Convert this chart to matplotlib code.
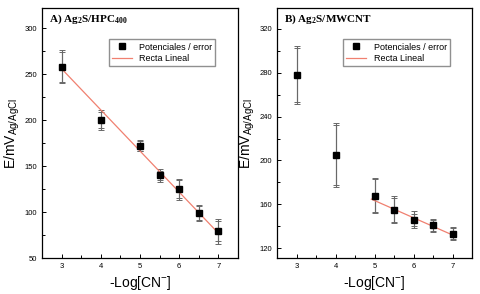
import matplotlib
matplotlib.use("Agg")
import matplotlib.pyplot as plt
import numpy as np

plt.rcParams['font.family'] = ['Liberation Sans', 'DejaVu Sans']
plt.rcParams['mathtext.fontset'] = 'custom'
plt.rcParams['mathtext.rm'] = 'Liberation Sans'
plt.rcParams['mathtext.it'] = 'Liberation Sans'
plt.rcParams['mathtext.bf'] = 'Liberation Serif:bold'

# Panel A: Ag2S/HPC400
xa = [3, 4, 5, 5.5, 6, 6.5, 7]
ya = [258, 200, 172, 140, 125, 99, 79]
erra_out = [18, 11, 6, 7, 11.5, 9, 13.5]
erra_in = [16, 9, 5, 5, 9.5, 8, 11]
fita_x = [3, 7]
fita_y = [256, 77]

# Panel B: Ag2S/MWCNT
xb = [3, 4, 5, 5.5, 6, 6.5, 7]
yb = [278, 205, 168, 155, 146, 141, 133]
errb_out = [26.5, 29.5, 16, 12.5, 7.5, 6, 6]
errb_in = [25, 27, 15, 11, 5.5, 5, 5]
fitb_x = [4.92, 7]
fitb_y = [164.7, 132]

fig = plt.figure(figsize=(4.81, 2.94), dpi=100)
axa = fig.add_axes([0.0873, 0.1224, 0.4075, 0.850])
axb = fig.add_axes([0.5759, 0.1224, 0.4054, 0.850])

def draw_panel(ax, x, y, e_out, e_in, fx, fy, title, ylim, yticks, yminor):
    ax.errorbar(x, y, yerr=e_out, fmt='none', ecolor='#686868', elinewidth=0.8,
                capsize=2.5, capthick=0.7, zorder=2)
    ax.errorbar(x, y, yerr=e_in, fmt='none', ecolor='#686868', elinewidth=0.8,
                capsize=2.5, capthick=0.7, zorder=2)
    ax.plot(x, y, 's', color='black', markersize=4.5, zorder=3,
            label='Potenciales / error')
    ax.plot(fx, fy, '-', color='#f08070', linewidth=0.9, zorder=2.5,
            label='Recta Lineal')
    ax.set_xlim(2.5, 7.5)
    ax.set_ylim(*ylim)
    ax.set_xticks([3, 4, 5, 6, 7])
    ax.set_xticks([3.5, 4.5, 5.5, 6.5], minor=True)
    ax.set_yticks(yticks)
    ax.set_yticks(yminor, minor=True)
    ax.tick_params(which='both', direction='in', labelsize=5.5, top=False, right=False,
                   width=0.7)
    ax.tick_params(which='major', length=3)
    ax.tick_params(which='minor', length=2)
    for s in ax.spines.values():
        s.set_linewidth(0.9)
    ax.set_xlabel(r'-Log[CN$^{\mathrm{-}}$]', fontsize=10, labelpad=3)
    ax.set_ylabel(r'E/mV$_{\mathrm{Ag/AgCl}}$', fontsize=10, labelpad=2)
    ax.text(0.035, 0.955, title, transform=ax.transAxes, fontsize=8,
            fontweight='bold', family='Liberation Serif', va='center')
    ax.legend(loc='upper left', bbox_to_anchor=(0.34, 0.875), fontsize=6.5,
              frameon=True, fancybox=False, edgecolor='#909090', framealpha=1,
              borderpad=0.35, handlelength=2.2, labelspacing=0.3, borderaxespad=0)

draw_panel(axa, xa, ya, erra_out, erra_in, fita_x, fita_y,
           r'A) Ag$_\mathbf{2}$S/HPC$_\mathbf{400}$', (50, 322),
           [50, 100, 150, 200, 250, 300], [75, 125, 175, 225, 275])
draw_panel(axb, xb, yb, errb_out, errb_in, fitb_x, fitb_y,
           r'B) Ag$_\mathbf{2}$S/MWCNT', (111, 339),
           [120, 160, 200, 240, 280, 320], [140, 180, 220, 260, 300])

fig.savefig('out.png', dpi=100)
